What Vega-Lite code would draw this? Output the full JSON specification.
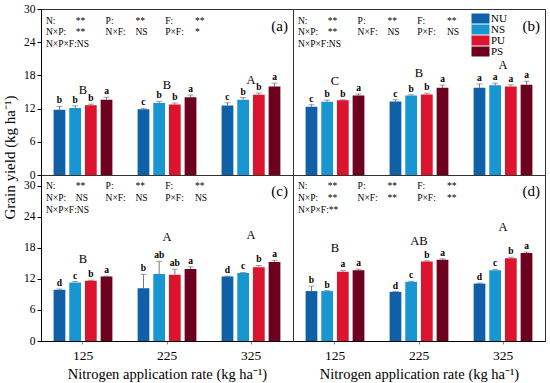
{
 "$schema": "https://vega.github.io/schema/vega-lite/v6.json",
 "padding": {"left": 2, "top": 2, "right": 3, "bottom": 2},
 "bounds": "flush",
 "spacing": 0,
 "columns": 2,
 "config": {
  "font": "Liberation Serif",
  "view": {"stroke": "#333", "strokeWidth": 1},
  "axis": {"labelFont": "Liberation Serif", "titleFont": "Liberation Serif", "labelColor": "black", "titleColor": "black", "domainColor": "black", "tickColor": "black", "grid": false, "titleFontWeight": "normal"},
  "legend": {"labelFont": "Liberation Serif", "labelColor": "black", "orient": "none", "legendX": 434, "legendY": 4, "title": null, "symbolType": "M-1.8,-1H1.8V1H-1.8Z", "symbolSize": 100, "labelFontSize": 11, "rowPadding": -3, "labelOffset": 5, "symbolStrokeWidth": 0},
  "text": {"font": "Liberation Serif", "color": "black"}
 },
 "data": {"values": [
  {"k":"bar","p":"a","N":"125","T":"NU","v":11.8,"hi":12.4,"s":"b"},
  {"k":"bar","p":"a","N":"125","T":"NS","v":12.1,"hi":12.5,"s":"b"},
  {"k":"bar","p":"a","N":"125","T":"PU","v":12.6,"hi":12.8,"s":"b"},
  {"k":"bar","p":"a","N":"125","T":"PS","v":13.6,"hi":14.05,"s":"a"},
  {"k":"bar","p":"a","N":"225","T":"NU","v":11.9,"hi":12.05,"s":"c"},
  {"k":"bar","p":"a","N":"225","T":"NS","v":13.0,"hi":13.3,"s":"b"},
  {"k":"bar","p":"a","N":"225","T":"PU","v":12.75,"hi":13.0,"s":"b"},
  {"k":"bar","p":"a","N":"225","T":"PS","v":14.05,"hi":14.45,"s":"a"},
  {"k":"bar","p":"a","N":"325","T":"NU","v":12.55,"hi":13.05,"s":"c"},
  {"k":"bar","p":"a","N":"325","T":"NS","v":13.6,"hi":14.0,"s":"b"},
  {"k":"bar","p":"a","N":"325","T":"PU","v":14.5,"hi":14.8,"s":"b"},
  {"k":"bar","p":"a","N":"325","T":"PS","v":16.0,"hi":16.6,"s":"a"},
  {"k":"bar","p":"b","N":"125","T":"NU","v":12.35,"hi":12.7,"s":"c"},
  {"k":"bar","p":"b","N":"125","T":"NS","v":13.25,"hi":13.55,"s":"b"},
  {"k":"bar","p":"b","N":"125","T":"PU","v":13.5,"hi":13.6,"s":"b"},
  {"k":"bar","p":"b","N":"125","T":"PS","v":14.35,"hi":14.65,"s":"a"},
  {"k":"bar","p":"b","N":"225","T":"NU","v":13.3,"hi":13.6,"s":"c"},
  {"k":"bar","p":"b","N":"225","T":"NS","v":14.35,"hi":14.5,"s":"b"},
  {"k":"bar","p":"b","N":"225","T":"PU","v":14.55,"hi":14.8,"s":"b"},
  {"k":"bar","p":"b","N":"225","T":"PS","v":15.75,"hi":16.25,"s":"a"},
  {"k":"bar","p":"b","N":"325","T":"NU","v":15.75,"hi":16.45,"s":"a"},
  {"k":"bar","p":"b","N":"325","T":"NS","v":16.2,"hi":16.6,"s":"a"},
  {"k":"bar","p":"b","N":"325","T":"PU","v":16.0,"hi":16.3,"s":"a"},
  {"k":"bar","p":"b","N":"325","T":"PS","v":16.3,"hi":16.95,"s":"a"},
  {"k":"bar","p":"c","N":"125","T":"NU","v":9.9,"hi":10.05,"s":"d"},
  {"k":"bar","p":"c","N":"125","T":"NS","v":11.3,"hi":11.5,"s":"c"},
  {"k":"bar","p":"c","N":"125","T":"PU","v":11.65,"hi":11.75,"s":"b"},
  {"k":"bar","p":"c","N":"125","T":"PS","v":12.45,"hi":12.55,"s":"a"},
  {"k":"bar","p":"c","N":"225","T":"NU","v":10.2,"hi":12.9,"s":"b"},
  {"k":"bar","p":"c","N":"225","T":"NS","v":12.95,"hi":15.4,"s":"ab"},
  {"k":"bar","p":"c","N":"225","T":"PU","v":12.8,"hi":13.9,"s":"ab"},
  {"k":"bar","p":"c","N":"225","T":"PS","v":13.9,"hi":14.35,"s":"a"},
  {"k":"bar","p":"c","N":"325","T":"NU","v":12.45,"hi":12.55,"s":"d"},
  {"k":"bar","p":"c","N":"325","T":"NS","v":13.15,"hi":13.25,"s":"c"},
  {"k":"bar","p":"c","N":"325","T":"PU","v":14.25,"hi":14.6,"s":"b"},
  {"k":"bar","p":"c","N":"325","T":"PS","v":15.3,"hi":15.6,"s":"a"},
  {"k":"bar","p":"d","N":"125","T":"NU","v":9.65,"hi":10.6,"s":"b"},
  {"k":"bar","p":"d","N":"125","T":"NS","v":9.65,"hi":9.75,"s":"b"},
  {"k":"bar","p":"d","N":"125","T":"PU","v":13.4,"hi":13.65,"s":"a"},
  {"k":"bar","p":"d","N":"125","T":"PS","v":13.7,"hi":13.9,"s":"a"},
  {"k":"bar","p":"d","N":"225","T":"NU","v":9.5,"hi":9.55,"s":"d"},
  {"k":"bar","p":"d","N":"225","T":"NS","v":11.45,"hi":11.55,"s":"c"},
  {"k":"bar","p":"d","N":"225","T":"PU","v":15.35,"hi":15.5,"s":"b"},
  {"k":"bar","p":"d","N":"225","T":"PS","v":15.7,"hi":15.9,"s":"a"},
  {"k":"bar","p":"d","N":"325","T":"NU","v":11.1,"hi":11.2,"s":"d"},
  {"k":"bar","p":"d","N":"325","T":"NS","v":13.7,"hi":13.85,"s":"c"},
  {"k":"bar","p":"d","N":"325","T":"PU","v":16.0,"hi":16.2,"s":"b"},
  {"k":"bar","p":"d","N":"325","T":"PS","v":17.0,"hi":17.2,"s":"a"},
  {"k":"grp","p":"a","N":"125","g":"B","gy":15.45},
  {"k":"grp","p":"a","N":"225","g":"B","gy":16.2},
  {"k":"grp","p":"a","N":"325","g":"A","gy":17.1},
  {"k":"grp","p":"b","N":"125","g":"C","gy":16.95},
  {"k":"grp","p":"b","N":"225","g":"B","gy":18.5},
  {"k":"grp","p":"b","N":"325","g":"A","gy":19.8},
  {"k":"grp","p":"c","N":"125","g":"B","gy":15.8},
  {"k":"grp","p":"c","N":"225","g":"A","gy":20.1},
  {"k":"grp","p":"c","N":"325","g":"A","gy":20.5},
  {"k":"grp","p":"d","N":"125","g":"B","gy":17.9},
  {"k":"grp","p":"d","N":"225","g":"AB","gy":19.4},
  {"k":"grp","p":"d","N":"325","g":"A","gy":22.0},
  {"k":"lab","p":"a","line":1,"t":"(a)"},
  {"k":"lab","p":"b","line":1,"t":"(b)"},
  {"k":"lab","p":"c","line":1,"t":"(c)"},
  {"k":"lab","p":"d","line":1,"t":"(d)"},
  {"k":"stat","p":"a","col":0,"line":1,"t":"N:"},
  {"k":"stat","p":"a","col":1,"line":1,"t":"**"},
  {"k":"stat","p":"a","col":2,"line":1,"t":"P:"},
  {"k":"stat","p":"a","col":3,"line":1,"t":"**"},
  {"k":"stat","p":"a","col":4,"line":1,"t":"F:"},
  {"k":"stat","p":"a","col":5,"line":1,"t":"**"},
  {"k":"stat","p":"a","col":0,"line":2,"t":"N×P:"},
  {"k":"stat","p":"a","col":1,"line":2,"t":"**"},
  {"k":"stat","p":"a","col":2,"line":2,"t":"N×F:"},
  {"k":"stat","p":"a","col":3,"line":2,"t":"NS"},
  {"k":"stat","p":"a","col":4,"line":2,"t":"P×F:"},
  {"k":"stat","p":"a","col":5,"line":2,"t":"*"},
  {"k":"stat","p":"a","col":0,"line":3,"t":"N×P×F:NS"},
  {"k":"stat","p":"b","col":0,"line":1,"t":"N:"},
  {"k":"stat","p":"b","col":1,"line":1,"t":"**"},
  {"k":"stat","p":"b","col":2,"line":1,"t":"P:"},
  {"k":"stat","p":"b","col":3,"line":1,"t":"**"},
  {"k":"stat","p":"b","col":4,"line":1,"t":"F:"},
  {"k":"stat","p":"b","col":5,"line":1,"t":"**"},
  {"k":"stat","p":"b","col":0,"line":2,"t":"N×P:"},
  {"k":"stat","p":"b","col":1,"line":2,"t":"**"},
  {"k":"stat","p":"b","col":2,"line":2,"t":"N×F:"},
  {"k":"stat","p":"b","col":3,"line":2,"t":"NS"},
  {"k":"stat","p":"b","col":4,"line":2,"t":"P×F:"},
  {"k":"stat","p":"b","col":5,"line":2,"t":"NS"},
  {"k":"stat","p":"b","col":0,"line":3,"t":"N×P×F:NS"},
  {"k":"stat","p":"c","col":0,"line":1,"t":"N:"},
  {"k":"stat","p":"c","col":1,"line":1,"t":"**"},
  {"k":"stat","p":"c","col":2,"line":1,"t":"P:"},
  {"k":"stat","p":"c","col":3,"line":1,"t":"**"},
  {"k":"stat","p":"c","col":4,"line":1,"t":"F:"},
  {"k":"stat","p":"c","col":5,"line":1,"t":"**"},
  {"k":"stat","p":"c","col":0,"line":2,"t":"N×P:"},
  {"k":"stat","p":"c","col":1,"line":2,"t":"NS"},
  {"k":"stat","p":"c","col":2,"line":2,"t":"N×F:"},
  {"k":"stat","p":"c","col":3,"line":2,"t":"NS"},
  {"k":"stat","p":"c","col":4,"line":2,"t":"P×F:"},
  {"k":"stat","p":"c","col":5,"line":2,"t":"NS"},
  {"k":"stat","p":"c","col":0,"line":3,"t":"N×P×F:NS"},
  {"k":"stat","p":"d","col":0,"line":1,"t":"N:"},
  {"k":"stat","p":"d","col":1,"line":1,"t":"**"},
  {"k":"stat","p":"d","col":2,"line":1,"t":"P:"},
  {"k":"stat","p":"d","col":3,"line":1,"t":"**"},
  {"k":"stat","p":"d","col":4,"line":1,"t":"F:"},
  {"k":"stat","p":"d","col":5,"line":1,"t":"**"},
  {"k":"stat","p":"d","col":0,"line":2,"t":"N×P:"},
  {"k":"stat","p":"d","col":1,"line":2,"t":"**"},
  {"k":"stat","p":"d","col":2,"line":2,"t":"N×F:"},
  {"k":"stat","p":"d","col":3,"line":2,"t":"**"},
  {"k":"stat","p":"d","col":4,"line":2,"t":"P×F:"},
  {"k":"stat","p":"d","col":5,"line":2,"t":"**"},
  {"k":"stat","p":"d","col":0,"line":3,"t":"N×P×F:**"}
 ]},
 "concat": [
   {
    "transform": [{"filter": "datum.p === 'a'"}],
    "width": 252, "height": 166,
    "layer": [
     {"encoding": {"x": {"field": "N", "type": "nominal", "scale": {"paddingInner": 0.3, "paddingOuter": 0.15}, "axis": null}},
      "layer": [
       {"transform": [{"filter": "datum.k === 'bar'"}], "mark": {"type": "rule", "color": "#777", "strokeWidth": 1},
        "encoding": {"xOffset": {"field": "T", "type": "nominal", "sort": ["NU","NS","PU","PS"], "scale": {"paddingInner": 0.25, "paddingOuter": 0}},
         "y": {"field": "v", "type": "quantitative", "scale": {"domain": [0, 30], "nice": false}, "axis": {"values": [0,6,12,18,24,30], "title": "Grain yield (kg ha⁻¹)", "titleY": 148, "titleFontSize": 15, "labelFontSize": 11.5, "tickSize": 4, "labelPadding": 2, "titlePadding": 6, "labelOverlap": false}},
         "y2": {"field": "hi"}}},
       {"transform": [{"filter": "datum.k === 'bar'"}], "mark": {"type": "tick", "color": "#777", "size": 6, "thickness": 1},
        "encoding": {"xOffset": {"field": "T", "type": "nominal", "sort": ["NU","NS","PU","PS"]}, "y": {"field": "hi", "type": "quantitative", "axis": {"values": [0,6,12,18,24,30], "title": "Grain yield (kg ha⁻¹)", "titleY": 148, "titleFontSize": 15, "labelFontSize": 11.5, "tickSize": 4, "labelPadding": 2, "titlePadding": 6, "labelOverlap": false}}}},
       {"transform": [{"filter": "datum.k === 'bar'"}], "mark": {"type": "bar"},
        "encoding": {"xOffset": {"field": "T", "type": "nominal", "sort": ["NU","NS","PU","PS"]}, "y": {"field": "v", "type": "quantitative", "axis": {"values": [0,6,12,18,24,30], "title": "Grain yield (kg ha⁻¹)", "titleY": 148, "titleFontSize": 15, "labelFontSize": 11.5, "tickSize": 4, "labelPadding": 2, "titlePadding": 6, "labelOverlap": false}},
         "color": {"field": "T", "type": "nominal", "sort": ["NU","NS","PU","PS"], "scale": {"domain": ["NU","NS","PU","PS"], "range": ["#1060a8","#1896d2","#dc142d","#6d001e"]}}}},
       {"transform": [{"filter": "datum.k === 'bar'"}], "mark": {"type": "text", "fontWeight": "bold", "fontSize": 9.5, "baseline": "bottom", "dy": -1},
        "encoding": {"xOffset": {"field": "T", "type": "nominal", "sort": ["NU","NS","PU","PS"]}, "y": {"field": "hi", "type": "quantitative", "axis": {"values": [0,6,12,18,24,30], "title": "Grain yield (kg ha⁻¹)", "titleY": 148, "titleFontSize": 15, "labelFontSize": 11.5, "tickSize": 4, "labelPadding": 2, "titlePadding": 6, "labelOverlap": false}}, "text": {"field": "s"}}},
       {"transform": [{"filter": "datum.k === 'grp'"}], "mark": {"type": "text", "fontSize": 12.5, "baseline": "middle"},
        "encoding": {"y": {"field": "gy", "type": "quantitative", "axis": {"values": [0,6,12,18,24,30], "title": "Grain yield (kg ha⁻¹)", "titleY": 148, "titleFontSize": 15, "labelFontSize": 11.5, "tickSize": 4, "labelPadding": 2, "titlePadding": 6, "labelOverlap": false}}, "text": {"field": "g"}}}
      ]},
     {"encoding": {"y": {"field": "line", "type": "ordinal", "scale": {"type": "point", "domain": [1,2,3,4,5,6,7,8,9,10,11,12,13,14,15], "padding": 0}, "axis": null}},
      "layer": [
       {"transform": [{"filter": "datum.k === 'stat'"}], "mark": {"type": "text", "fontSize": 9.5, "align": "left", "baseline": "middle", "dy": 11.5, "dx": 5},
        "encoding": {"x": {"field": "col", "type": "ordinal", "scale": {"type": "point", "domain": [0,1,2,3,4,5,6,7], "padding": 0.728, "align": 0}, "axis": null}, "text": {"field": "t"}}},
       {"transform": [{"filter": "datum.k === 'lab'"}], "mark": {"type": "text", "fontSize": 15, "align": "right", "baseline": "middle", "dy": 17, "dx": -5},
        "encoding": {"x": {"value": "width"}, "text": {"field": "t"}}}
      ]}
    ],
    "resolve": {"scale": {"x": "independent", "y": "independent"}}
   },
   {
    "transform": [{"filter": "datum.p === 'b'"}],
    "width": 252, "height": 166,
    "layer": [
     {"encoding": {"x": {"field": "N", "type": "nominal", "scale": {"paddingInner": 0.3, "paddingOuter": 0.15}, "axis": null}},
      "layer": [
       {"transform": [{"filter": "datum.k === 'bar'"}], "mark": {"type": "rule", "color": "#777", "strokeWidth": 1},
        "encoding": {"xOffset": {"field": "T", "type": "nominal", "sort": ["NU","NS","PU","PS"], "scale": {"paddingInner": 0.25, "paddingOuter": 0}},
         "y": {"field": "v", "type": "quantitative", "scale": {"domain": [0, 30], "nice": false}, "axis": null},
         "y2": {"field": "hi"}}},
       {"transform": [{"filter": "datum.k === 'bar'"}], "mark": {"type": "tick", "color": "#777", "size": 6, "thickness": 1},
        "encoding": {"xOffset": {"field": "T", "type": "nominal", "sort": ["NU","NS","PU","PS"]}, "y": {"field": "hi", "type": "quantitative", "axis": null}}},
       {"transform": [{"filter": "datum.k === 'bar'"}], "mark": {"type": "bar"},
        "encoding": {"xOffset": {"field": "T", "type": "nominal", "sort": ["NU","NS","PU","PS"]}, "y": {"field": "v", "type": "quantitative", "axis": null},
         "color": {"field": "T", "type": "nominal", "sort": ["NU","NS","PU","PS"], "scale": {"domain": ["NU","NS","PU","PS"], "range": ["#1060a8","#1896d2","#dc142d","#6d001e"]}}}},
       {"transform": [{"filter": "datum.k === 'bar'"}], "mark": {"type": "text", "fontWeight": "bold", "fontSize": 9.5, "baseline": "bottom", "dy": -1},
        "encoding": {"xOffset": {"field": "T", "type": "nominal", "sort": ["NU","NS","PU","PS"]}, "y": {"field": "hi", "type": "quantitative", "axis": null}, "text": {"field": "s"}}},
       {"transform": [{"filter": "datum.k === 'grp'"}], "mark": {"type": "text", "fontSize": 12.5, "baseline": "middle"},
        "encoding": {"y": {"field": "gy", "type": "quantitative", "axis": null}, "text": {"field": "g"}}}
      ]},
     {"encoding": {"y": {"field": "line", "type": "ordinal", "scale": {"type": "point", "domain": [1,2,3,4,5,6,7,8,9,10,11,12,13,14,15], "padding": 0}, "axis": null}},
      "layer": [
       {"transform": [{"filter": "datum.k === 'stat'"}], "mark": {"type": "text", "fontSize": 9.5, "align": "left", "baseline": "middle", "dy": 11.5, "dx": 5},
        "encoding": {"x": {"field": "col", "type": "ordinal", "scale": {"type": "point", "domain": [0,1,2,3,4,5,6,7], "padding": 0.728, "align": 0}, "axis": null}, "text": {"field": "t"}}},
       {"transform": [{"filter": "datum.k === 'lab'"}], "mark": {"type": "text", "fontSize": 15, "align": "right", "baseline": "middle", "dy": 17, "dx": -5},
        "encoding": {"x": {"value": "width"}, "text": {"field": "t"}}}
      ]}
    ],
    "resolve": {"scale": {"x": "independent", "y": "independent"}}
   },
   {
    "transform": [{"filter": "datum.p === 'c'"}],
    "width": 252, "height": 166,
    "layer": [
     {"encoding": {"x": {"field": "N", "type": "nominal", "scale": {"paddingInner": 0.3, "paddingOuter": 0.15}, "axis": {"title": "Nitrogen application rate (kg ha⁻¹)", "labelAngle": 0, "labelFontSize": 13.5, "titleFontSize": 14.5, "tickSize": 3, "tickColor": "#888", "labelPadding": 4, "titlePadding": 6}}},
      "layer": [
       {"transform": [{"filter": "datum.k === 'bar'"}], "mark": {"type": "rule", "color": "#777", "strokeWidth": 1},
        "encoding": {"xOffset": {"field": "T", "type": "nominal", "sort": ["NU","NS","PU","PS"], "scale": {"paddingInner": 0.25, "paddingOuter": 0}},
         "y": {"field": "v", "type": "quantitative", "scale": {"domain": [0, 32.1], "nice": false}, "axis": {"values": [0,6,12,18,24,30], "title": null, "labelFontSize": 11.5, "tickSize": 4, "labelPadding": 2, "labelOverlap": false}},
         "y2": {"field": "hi"}}},
       {"transform": [{"filter": "datum.k === 'bar'"}], "mark": {"type": "tick", "color": "#777", "size": 6, "thickness": 1},
        "encoding": {"xOffset": {"field": "T", "type": "nominal", "sort": ["NU","NS","PU","PS"]}, "y": {"field": "hi", "type": "quantitative", "axis": {"values": [0,6,12,18,24,30], "title": null, "labelFontSize": 11.5, "tickSize": 4, "labelPadding": 2, "labelOverlap": false}}}},
       {"transform": [{"filter": "datum.k === 'bar'"}], "mark": {"type": "bar"},
        "encoding": {"xOffset": {"field": "T", "type": "nominal", "sort": ["NU","NS","PU","PS"]}, "y": {"field": "v", "type": "quantitative", "axis": {"values": [0,6,12,18,24,30], "title": null, "labelFontSize": 11.5, "tickSize": 4, "labelPadding": 2, "labelOverlap": false}},
         "color": {"field": "T", "type": "nominal", "sort": ["NU","NS","PU","PS"], "scale": {"domain": ["NU","NS","PU","PS"], "range": ["#1060a8","#1896d2","#dc142d","#6d001e"]}}}},
       {"transform": [{"filter": "datum.k === 'bar'"}], "mark": {"type": "text", "fontWeight": "bold", "fontSize": 9.5, "baseline": "bottom", "dy": -1},
        "encoding": {"xOffset": {"field": "T", "type": "nominal", "sort": ["NU","NS","PU","PS"]}, "y": {"field": "hi", "type": "quantitative", "axis": {"values": [0,6,12,18,24,30], "title": null, "labelFontSize": 11.5, "tickSize": 4, "labelPadding": 2, "labelOverlap": false}}, "text": {"field": "s"}}},
       {"transform": [{"filter": "datum.k === 'grp'"}], "mark": {"type": "text", "fontSize": 12.5, "baseline": "middle"},
        "encoding": {"y": {"field": "gy", "type": "quantitative", "axis": {"values": [0,6,12,18,24,30], "title": null, "labelFontSize": 11.5, "tickSize": 4, "labelPadding": 2, "labelOverlap": false}}, "text": {"field": "g"}}}
      ]},
     {"encoding": {"y": {"field": "line", "type": "ordinal", "scale": {"type": "point", "domain": [1,2,3,4,5,6,7,8,9,10,11,12,13,14,15], "padding": 0}, "axis": null}},
      "layer": [
       {"transform": [{"filter": "datum.k === 'stat'"}], "mark": {"type": "text", "fontSize": 9.5, "align": "left", "baseline": "middle", "dy": 11, "dx": 5},
        "encoding": {"x": {"field": "col", "type": "ordinal", "scale": {"type": "point", "domain": [0,1,2,3,4,5,6,7], "padding": 0.728, "align": 0}, "axis": null}, "text": {"field": "t"}}},
       {"transform": [{"filter": "datum.k === 'lab'"}], "mark": {"type": "text", "fontSize": 15, "align": "right", "baseline": "middle", "dy": 16, "dx": -5},
        "encoding": {"x": {"value": "width"}, "text": {"field": "t"}}}
      ]}
    ],
    "resolve": {"scale": {"x": "independent", "y": "independent"}}
   },
   {
    "transform": [{"filter": "datum.p === 'd'"}],
    "width": 252, "height": 166,
    "layer": [
     {"encoding": {"x": {"field": "N", "type": "nominal", "scale": {"paddingInner": 0.3, "paddingOuter": 0.15}, "axis": {"title": "Nitrogen application rate (kg ha⁻¹)", "labelAngle": 0, "labelFontSize": 13.5, "titleFontSize": 14.5, "tickSize": 3, "tickColor": "#888", "labelPadding": 4, "titlePadding": 6}}},
      "layer": [
       {"transform": [{"filter": "datum.k === 'bar'"}], "mark": {"type": "rule", "color": "#777", "strokeWidth": 1},
        "encoding": {"xOffset": {"field": "T", "type": "nominal", "sort": ["NU","NS","PU","PS"], "scale": {"paddingInner": 0.25, "paddingOuter": 0}},
         "y": {"field": "v", "type": "quantitative", "scale": {"domain": [0, 32.1], "nice": false}, "axis": null},
         "y2": {"field": "hi"}}},
       {"transform": [{"filter": "datum.k === 'bar'"}], "mark": {"type": "tick", "color": "#777", "size": 6, "thickness": 1},
        "encoding": {"xOffset": {"field": "T", "type": "nominal", "sort": ["NU","NS","PU","PS"]}, "y": {"field": "hi", "type": "quantitative", "axis": null}}},
       {"transform": [{"filter": "datum.k === 'bar'"}], "mark": {"type": "bar"},
        "encoding": {"xOffset": {"field": "T", "type": "nominal", "sort": ["NU","NS","PU","PS"]}, "y": {"field": "v", "type": "quantitative", "axis": null},
         "color": {"field": "T", "type": "nominal", "sort": ["NU","NS","PU","PS"], "scale": {"domain": ["NU","NS","PU","PS"], "range": ["#1060a8","#1896d2","#dc142d","#6d001e"]}}}},
       {"transform": [{"filter": "datum.k === 'bar'"}], "mark": {"type": "text", "fontWeight": "bold", "fontSize": 9.5, "baseline": "bottom", "dy": -1},
        "encoding": {"xOffset": {"field": "T", "type": "nominal", "sort": ["NU","NS","PU","PS"]}, "y": {"field": "hi", "type": "quantitative", "axis": null}, "text": {"field": "s"}}},
       {"transform": [{"filter": "datum.k === 'grp'"}], "mark": {"type": "text", "fontSize": 12.5, "baseline": "middle"},
        "encoding": {"y": {"field": "gy", "type": "quantitative", "axis": null}, "text": {"field": "g"}}}
      ]},
     {"encoding": {"y": {"field": "line", "type": "ordinal", "scale": {"type": "point", "domain": [1,2,3,4,5,6,7,8,9,10,11,12,13,14,15], "padding": 0}, "axis": null}},
      "layer": [
       {"transform": [{"filter": "datum.k === 'stat'"}], "mark": {"type": "text", "fontSize": 9.5, "align": "left", "baseline": "middle", "dy": 11, "dx": 5},
        "encoding": {"x": {"field": "col", "type": "ordinal", "scale": {"type": "point", "domain": [0,1,2,3,4,5,6,7], "padding": 0.728, "align": 0}, "axis": null}, "text": {"field": "t"}}},
       {"transform": [{"filter": "datum.k === 'lab'"}], "mark": {"type": "text", "fontSize": 15, "align": "right", "baseline": "middle", "dy": 16, "dx": -5},
        "encoding": {"x": {"value": "width"}, "text": {"field": "t"}}}
      ]}
    ],
    "resolve": {"scale": {"x": "independent", "y": "independent"}}
   }
 ]
}
